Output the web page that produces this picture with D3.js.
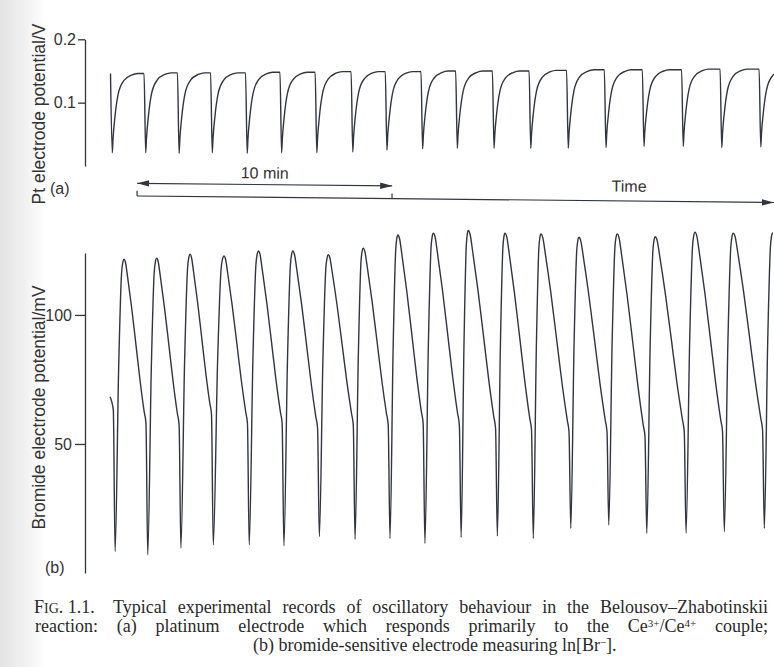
<!DOCTYPE html>
<html>
<head>
<meta charset="utf-8">
<script src="https://cdn.jsdelivr.net/npm/d3@7"></script>
<style>
  html, body { margin: 0; padding: 0; background: #fff; }
  svg { display: block; }
</style>
</head>
<body>
<svg id="fig" width="774" height="667"></svg>
<script>
// ---- time base (minutes from the start of the record) ----
const timeDomain = [0, 26];
const scaleBarStart = 1.06;      // left end of the 10-minute bar
const scaleBarMinutes = 10;

// ---- (a) Pt electrode potential / V ----
const ptTicks = [0.1, 0.2];
const ptStart = [0.02, 0.146];   // [time, value] where the trace begins
const ptDipTimes = [0.09, 1.40, 2.71, 4.01, 5.38, 6.73, 8.11, 9.52, 10.86, 12.26,
                    13.62, 15.06, 16.50, 17.97, 19.45, 20.94, 22.48, 23.99, 25.52];
const ptTroughs  = [0.021, 0.021, 0.020, 0.021, 0.020, 0.021, 0.021, 0.022, 0.025, 0.027,
                    0.028, 0.028, 0.028, 0.028, 0.029, 0.031, 0.031, 0.029, 0.030];
const ptPlateaus = [0.146, 0.147, 0.147, 0.147, 0.148, 0.148, 0.149, 0.149, 0.149, 0.150,
                    0.150, 0.150, 0.151, 0.152, 0.152, 0.152, 0.153, 0.153, 0.153];
// recovery after each dip: [minutes after dip, fraction of the way back to the plateau]
const ptRise = [[0, 0], [0.03, 0.18], [0.10, 0.44], [0.23, 0.74], [0.45, 0.91], [0.75, 0.98], [1.0, 1.0]];
const ptDropLead = 0.065;        // the fall starts this long before each dip

// ---- (b) bromide electrode potential / mV ----
const brTicks = [50, 100];
const brStart = [[0, 68.3], [0.13, 63.2]];
const brMinTimes  = [0.20, 1.48, 2.78, 4.05, 5.46, 6.82, 8.21, 9.61, 10.98, 12.35,
                     13.77, 15.19, 16.60, 18.07, 19.56, 21.05, 22.59, 24.09, 25.66];
const brTroughs   = [8.3, 7.0, 9.6, 10.9, 10.9, 10.5, 14.1, 13.1, 13.4, 11.5,
                     13.8, 14.3, 13.4, 17.3, 18.6, 15.4, 15.4, 16.0, 17.3];
const brPeakTimes = [0.55, 1.83, 3.14, 4.47, 5.82, 7.17, 8.56, 9.93, 11.29, 12.68,
                     14.05, 15.49, 16.90, 18.39, 19.89, 21.38, 22.94, 24.44, 25.99];
const brPeaks     = [121.6, 122.0, 123.5, 122.9, 124.8, 124.8, 123.3, 125.9, 131.0, 131.7,
                     132.7, 131.7, 131.4, 130.1, 131.4, 130.3, 132.1, 131.7, 131.9];
// level where the slow decline breaks into the fast fall, before each following minimum
const brKnees     = [62.5, 61.9, 66.0, 62.5, 62.5, 60.6, 61.9, 61.9, 62.5, 61.9,
                     60.6, 60.0, 59.3, 59.3, 57.4, 59.3, 59.3, 60.0];
// upstroke: [fraction of time min->peak, fraction of height]
const brRise = [[0, 0], [0.40, 0.63], [0.72, 0.95], [0.87, 0.99], [1, 1]];
// decline: [fraction of time peak->knee, fraction of height above the knee]
const brFall = [[0, 1], [0.07, 0.98], [0.17, 0.89], [0.38, 0.68], [0.60, 0.43], [0.80, 0.20], [1, 0]];
const brKneeLead = 0.14, brShoulderLead = 0.07, brShoulderDrop = 4.5;

// ---- build the two traces ----
function ptPoints() {
  const pts = [ptStart];
  ptDipTimes.forEach((d, i) => {
    const lo = ptTroughs[i], hi = ptPlateaus[i];
    pts.push([d, lo]);
    ptRise.slice(1).forEach(([dt, f]) => pts.push([d + dt, lo + f * (hi - lo)]));
    if (i + 1 < ptDipTimes.length) pts.push([ptDipTimes[i + 1] - ptDropLead, hi]);
  });
  return pts;
}

function brPoints() {
  const pts = brStart.slice();
  brMinTimes.forEach((m, i) => {
    const lo = brTroughs[i], hi = brPeaks[i], tp = brPeakTimes[i];
    pts.push([m, lo]);
    brRise.slice(1).forEach(([f, g]) => pts.push([m + f * (tp - m), lo + g * (hi - lo)]));
    if (i + 1 < brMinTimes.length) {
      const next = brMinTimes[i + 1], k = brKnees[i], tk = next - brKneeLead;
      brFall.slice(1).forEach(([f, g]) => pts.push([tp + f * (tk - tp), k + g * (hi - k)]));
      pts.push([next - brShoulderLead, k - brShoulderDrop]);
    }
  });
  return pts;
}

// ---- drawing ----
const svg = d3.select("#fig");
const ink = "#30353f";
const sans = "'Liberation Sans', Arial, Helvetica, sans-serif";

// faint shading along the left margin of the page
const defs = svg.append("defs");
const grad = defs.append("linearGradient").attr("id", "edge").attr("x1", 0).attr("x2", 1);
grad.append("stop").attr("offset", 0).attr("stop-color", "#e4e4e4");
grad.append("stop").attr("offset", 0.55).attr("stop-color", "#f1f1f1");
grad.append("stop").attr("offset", 1).attr("stop-color", "#ffffff");
svg.append("rect").attr("width", 774).attr("height", 667).attr("fill", "#fff");
svg.append("rect").attr("width", 46).attr("height", 667).attr("fill", "url(#edge)");
defs.append("clipPath").attr("id", "plotclip")
  .append("rect").attr("x", 0).attr("y", 0).attr("width", 774).attr("height", 600);

const x = d3.scaleLinear().domain(timeDomain).range([110, 773]);
const yPt = d3.scaleLinear().domain([0, 0.2]).range([166, 39.3]);
const yBr = d3.scaleLinear().domain([0, 124]).range([573, 253]);

function styleAxis(g) {
  g.select(".domain").attr("stroke", ink).attr("stroke-width", 1.3);
  g.selectAll(".tick line").attr("stroke", ink).attr("stroke-width", 1.3);
  g.selectAll(".tick text").attr("fill", "#333").attr("font-family", sans).attr("font-size", 16);
}

svg.append("g").attr("transform", "translate(85,0)")
  .call(d3.axisLeft(yPt).tickValues(ptTicks).tickSize(7).tickSizeOuter(0)
        .tickPadding(2).tickFormat(d3.format(".1f")))
  .call(styleAxis);

svg.append("g").attr("transform", "translate(85,0)")
  .call(d3.axisLeft(yBr).tickValues(brTicks).tickSize(10).tickSizeOuter(0)
        .tickPadding(3).tickFormat(d3.format("d")))
  .call(styleAxis);

// axis titles
svg.append("text").attr("transform", "translate(44.5,114) rotate(-90)")
  .attr("text-anchor", "middle").attr("font-family", sans).attr("font-size", 17.5)
  .attr("fill", "#333").text("Pt electrode potential/V");
svg.append("text").attr("transform", "translate(44.5,407.5) rotate(-90)")
  .attr("text-anchor", "middle").attr("font-family", sans).attr("font-size", 17.5)
  .attr("fill", "#333").text("Bromide electrode potential/mV");

// panel letters
svg.append("text").attr("x", 50).attr("y", 194).attr("font-family", sans)
  .attr("font-size", 16).attr("fill", "#333").text("(a)");
svg.append("text").attr("x", 45).attr("y", 573).attr("font-family", sans)
  .attr("font-size", 16).attr("fill", "#333").text("(b)");

// traces
const line = (yScale) => d3.line().x(d => x(d[0])).y(d => yScale(d[1])).curve(d3.curveMonotoneX);
svg.append("path").attr("clip-path", "url(#plotclip)")
  .attr("d", line(yPt)(ptPoints()))
  .attr("fill", "none").attr("stroke", ink).attr("stroke-width", 1.4).attr("stroke-linejoin", "round");
svg.append("path").attr("clip-path", "url(#plotclip)")
  .attr("d", line(yBr)(brPoints()))
  .attr("fill", "none").attr("stroke", ink).attr("stroke-width", 1.4).attr("stroke-linejoin", "round");

// time annotations: 10-minute bar and time arrow
const mk = (id, path) => defs.append("marker").attr("id", id)
  .attr("viewBox", "0 -4 12 8").attr("refX", 12).attr("refY", 0)
  .attr("markerWidth", 12).attr("markerHeight", 8).attr("markerUnits", "userSpaceOnUse")
  .attr("orient", "auto-start-reverse")
  .append("path").attr("d", path).attr("fill", ink);
mk("head", "M0,-3.2L12,0L0,3.2Z");

const x0 = x(scaleBarStart), x1 = x(scaleBarStart + scaleBarMinutes);
const ann = svg.append("g").attr("transform", `rotate(0.58,${x0},196)`);
ann.append("line").attr("x1", x0).attr("x2", x1).attr("y1", 183.3).attr("y2", 183.3)
  .attr("stroke", ink).attr("stroke-width", 1.2)
  .attr("marker-start", "url(#head)").attr("marker-end", "url(#head)");
ann.append("text").attr("x", (x0 + x1) / 2).attr("y", 177.3).attr("text-anchor", "middle")
  .attr("font-family", sans).attr("font-size", 16).attr("fill", "#333")
  .text(scaleBarMinutes + " min");
ann.append("line").attr("x1", x0).attr("x2", 774).attr("y1", 196).attr("y2", 196)
  .attr("stroke", ink).attr("stroke-width", 1.2).attr("marker-end", "url(#head)");
[x0, x1].forEach(xx => ann.append("line").attr("x1", xx).attr("x2", xx)
  .attr("y1", 190.8).attr("y2", 196).attr("stroke", ink).attr("stroke-width", 1.2));
ann.append("text").attr("x", 629).attr("y", 186.8).attr("text-anchor", "middle")
  .attr("font-family", sans).attr("font-size", 16).attr("fill", "#333").text("Time");

// caption
const serif = "'Liberation Serif', 'Times New Roman', Times, serif";
const cap = svg.append("g").attr("font-family", serif).attr("font-size", 18).attr("fill", "#2a2a2a");
const rightEdge = 768;
function justify(sel, x0) {
  const node = sel.node();
  const w = node.getComputedTextLength();
  const n = (node.textContent.match(/ /g) || []).length;
  if (n > 0) sel.attr("word-spacing", Math.max(0, (rightEdge - x0 - w) / n));
}

const fig = cap.append("text").attr("x", 34).attr("y", 612.5);
fig.append("tspan").text("F");
fig.append("tspan").attr("font-size", 14).text("IG");
fig.append("tspan").text(". 1.1.");

const l1 = cap.append("text").attr("x", 113).attr("y", 612.5)
  .text("Typical experimental records of oscillatory behaviour in the Belousov–Zhabotinskii");
justify(l1, 113);

const l2 = cap.append("text").attr("x", 35).attr("y", 631.5);
l2.append("tspan").text("reaction: (a) platinum electrode which responds primarily to the Ce");
l2.append("tspan").attr("dy", -5).attr("font-size", 11).text("3+");
l2.append("tspan").attr("dy", 5).text("/Ce");
l2.append("tspan").attr("dy", -5).attr("font-size", 11).text("4+");
l2.append("tspan").attr("dy", 5).text(" couple;");
justify(l2, 35);

const l3 = cap.append("text").attr("x", 253).attr("y", 650.5);
l3.append("tspan").text("(b) bromide-sensitive electrode measuring ln[Br");
l3.append("tspan").attr("dy", -5).attr("font-size", 11).text("−");
l3.append("tspan").attr("dy", 5).text("].");
</script>
</body>
</html>
